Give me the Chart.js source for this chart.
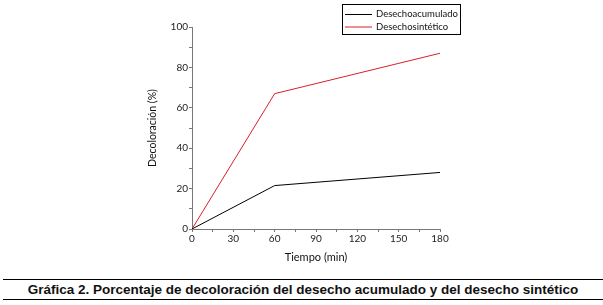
<!DOCTYPE html>
<html><head><meta charset="utf-8">
<script src="https://cdn.jsdelivr.net/npm/chart.js@4"></script>
<style>
html,body{margin:0;padding:0;background:#fff;width:603px;height:305px;overflow:hidden;}
#wrap{position:absolute;left:0;top:0;width:603px;height:272px;}
#cap{position:absolute;left:3px;width:600px;top:279px;height:21px;border-top:1px solid #000;border-bottom:1px solid #000;
font:bold 13.5px "Liberation Sans",Arial,sans-serif;text-align:center;line-height:19px;color:#111;box-sizing:border-box;}
</style></head><body>
<div id="wrap"><canvas id="c" width="603" height="272"></canvas></div>
<div id="cap">Gráfica 2. Porcentaje de decoloración del desecho acumulado y del desecho sintético</div>
<script>
const times = [0, 60, 180];
const acumulado = [0, 21.5, 28];
const sintetico = [0, 67, 87];
const seriesNames = ['Desechoacumulado', 'Desechosintético'];
const xTicks = [0, 30, 60, 90, 120, 150, 180];
const yTicks = [0, 20, 40, 60, 80, 100];

const FONT = 'Lato, "Open Sans", sans-serif';

const legendBox = {
  id: 'legendBox',
  afterDraw(chart) {
    const ctx = chart.ctx;
    ctx.save();
    const x0 = 342, y0 = 4, w = 118, h = 30;
    ctx.strokeStyle = '#000'; ctx.lineWidth = 1;
    ctx.strokeRect(x0 + 0.5, y0 + 0.5, w, h);
    ctx.font = '9.5px ' + FONT;
    ctx.textBaseline = 'middle';
    chart.data.datasets.forEach((ds, i) => {
      const yy = y0 + 10 + i * 12.5;
      ctx.strokeStyle = ds.borderColor;
      ctx.beginPath(); ctx.moveTo(x0 + 3, yy + 0.5); ctx.lineTo(x0 + 30, yy + 0.5); ctx.stroke();
      ctx.fillStyle = '#111';
      ctx.fillText(ds.label, x0 + 34, yy);
    });
    ctx.restore();
  }
};

const mk = (arr) => times.map((t, i) => ({x: t, y: arr[i]}));

new Chart(document.getElementById('c'), {
  type: 'line',
  data: {
    datasets: [
      {label: seriesNames[0], data: mk(acumulado), borderColor: '#000', borderWidth: 1, pointRadius: 0, tension: 0},
      {label: seriesNames[1], data: mk(sintetico), borderColor: '#d8202c', borderWidth: 1, pointRadius: 0, tension: 0}
    ]
  },
  options: {
    responsive: false, animation: false, devicePixelRatio: 1,
    layout: {padding: {left: 142, right: 163, top: 27, bottom: 0}},
    plugins: {legend: {display: false}, tooltip: {enabled: false}},
    scales: {
      x: {
        type: 'linear', min: 0, max: 180,
        afterFit(s) { s.height = 43; },
        afterBuildTicks(s) { const t = []; for (let v = 0; v <= 180; v += 15) t.push({value: v}); s.ticks = t; },
        ticks: {autoSkip: false, maxRotation: 0, padding: 1, color: '#222', font: {family: FONT, size: 10},
          callback: (v) => xTicks.includes(v) ? String(v) : ''},
        grid: {drawOnChartArea: false, tickLength: 3, color: '#777'},
        border: {color: '#777', width: 1},
        title: {display: true, text: 'Tiempo (min)', color: '#111', font: {family: FONT, size: 11}, padding: {top: 4, bottom: 8}}
      },
      y: {
        min: 0, max: 100,
        afterFit(s) { s.width = 50; },
        afterBuildTicks(s) { const t = []; for (let v = 0; v <= 100; v += 10) t.push({value: v}); s.ticks = t; },
        ticks: {autoSkip: false, padding: 1, color: '#222', font: {family: FONT, size: 10},
          callback: (v) => yTicks.includes(v) ? String(v) : ''},
        grid: {drawOnChartArea: false, tickLength: 3, color: '#777'},
        border: {color: '#777', width: 1},
        title: {display: true, text: 'Decoloración (%)', color: '#111', font: {family: FONT, size: 10.5}, padding: {top: 4, bottom: 4}}
      }
    }
  },
  plugins: [legendBox]
});
</script>
</body></html>
